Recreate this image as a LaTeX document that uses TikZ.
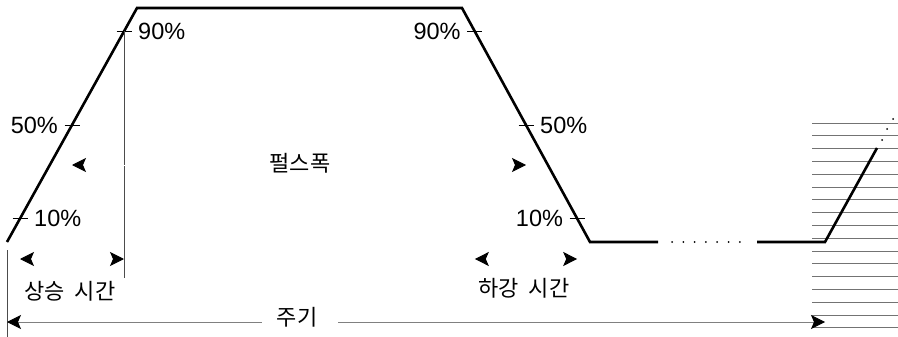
\documentclass[tikz,border=0pt]{standalone}
\usepackage{fontspec}
\setmainfont{Liberation Sans}
\newfontfamily\kor{Noto Sans CJK KR}
\usetikzlibrary{arrows.meta,positioning}

\begin{document}
\begin{tikzpicture}[
    x=1pt, y=-1pt,
    node distance=14pt,
    pulse/.style={line width=2.6pt, line join=miter},
    tick/.style={line width=0.9pt},
    ext/.style={line width=0.7pt, draw=black!70},
    hatch/.style={line width=0.8pt, draw=black!55},
    pct/.style={inner sep=0pt, font=\fontsize{23.5}{23.5}\selectfont},
    lbl/.style={inner sep=0pt, font=\kor\fontsize{22}{22}\selectfont},
    dim/.style={{Stealth[length=14pt,width=14pt,inset=3pt,color=black,fill=black]}-{Stealth[length=14pt,width=14pt,inset=3pt,color=black,fill=black]}, draw=white, line width=1pt},
    period/.style={-{Stealth[length=14pt,width=14pt,inset=3pt,color=black,fill=black]}, draw=black!50, line width=1pt},
    dot/.style={circle, fill=black, inner sep=0pt, minimum size=2pt}
]
\useasboundingbox (0,0) rectangle (898,337);

% hatched region
\foreach \i in {0,...,16}
    \draw[hatch] (812,{123+12.8*\i}) -- (898,{123+12.8*\i});

% pulse corners
\coordinate (r0) at (7,242);
\coordinate (r1) at (137,8);
\coordinate (f0) at (462,8);
\coordinate (f1) at (590,242);
\coordinate (g0) at (658,242);
\coordinate (g1) at (757,242);
\coordinate (n0) at (825,242);
\coordinate (n1) at (877,148);

\path (r0) -- (r1) coordinate[pos=0.1] (r10) coordinate[pos=0.5] (r50) coordinate[pos=0.9] (r90);
\path (f1) -- (f0) coordinate[pos=0.1] (f10) coordinate[pos=0.5] (f50) coordinate[pos=0.9] (f90);

\draw[pulse] (r0) -- (r1) -- (f0) -- (f1) -- (g0);
\draw[pulse] (g1) -- (n0) -- (n1);
\foreach \i in {0,...,6}
    \node[dot] at ({672+11.3*\i},242) {};
\node[dot] at (882,140) {};
\node[dot] at (887,129) {};
\node[dot] at (893,119) {};

% level ticks
\foreach \p in {r10,r50,r90,f10,f50,f90}
    \draw[tick] ([xshift=-7.5pt]\p) -- ([xshift=7.5pt]\p);

\node[pct, right=of r10] (r10l) {10\%};
\node[pct, left=of r50] (r50l) {50\%};
\node[pct, right=of r90] (r90l) {90\%};
\node[pct, left=of f10] (f10l) {10\%};
\node[pct, right=of f50] (f50l) {50\%};
\node[pct, left=of f90] (f90l) {90\%};

% extension lines
\coordinate (e0) at (7,250);
\coordinate (e1) at (7,337);
\coordinate (e2) at (r90 |- 0,278);
\draw[ext] (e0) -- (e1);
\draw[ext] (r90) -- (e2);

% pulse width
\coordinate (w0) at (r50 |- 0,165);
\coordinate (w1) at (f50 |- 0,165);
\draw[dim] (w0) -- (w1);
\node[lbl] (width) at (300,163) {펄스폭};

% rise and fall time
\coordinate (rt0) at (r10 |- 0,259);
\coordinate (rt1) at (r90 |- 0,259);
\coordinate (ft0) at (f90 |- 0,259);
\coordinate (ft1) at (f10 |- 0,259);
\draw[dim] (rt0) -- (rt1);
\draw[dim] (ft0) -- (ft1);
\node[lbl] (rise) at (70,291) {상승\hspace{0.45em}시간};
\node[lbl] (fall) at (524,288) {하강\hspace{0.45em}시간};

% period
\node[lbl, inner xsep=15pt] (per) at (297,317) {주기};
\coordinate (p0) at (7,322);
\coordinate (p1) at (825,322);
\draw[period] (per.west |- p0) -- (p0);
\draw[period] ([xshift=6pt]per.east |- p1) -- (p1);
\end{tikzpicture}
\end{document}
